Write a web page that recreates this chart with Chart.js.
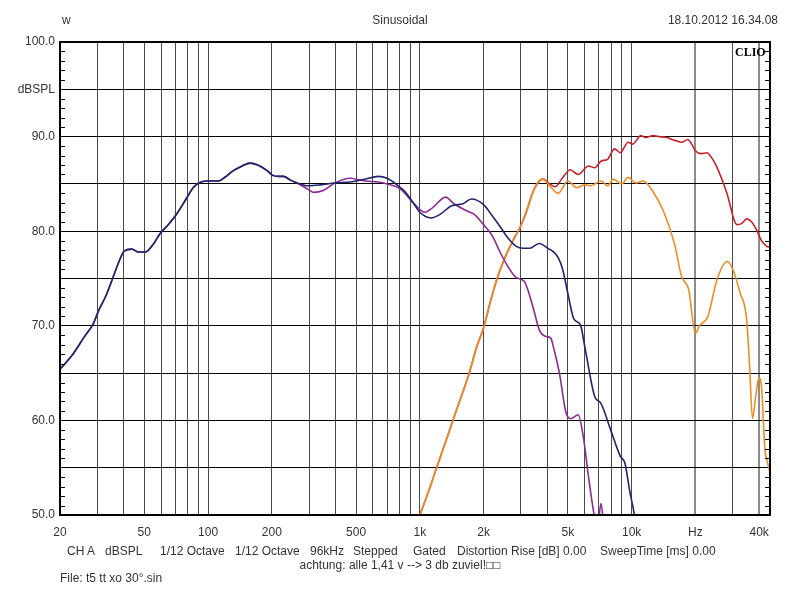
<!DOCTYPE html>
<html><head><meta charset="utf-8">
<script src="https://cdn.jsdelivr.net/npm/chart.js@4/dist/chart.umd.min.js"></script>
<style>
body{margin:0;background:#fff;}
#wrap{position:relative;width:800px;height:600px;font-family:"Liberation Sans",Arial,sans-serif;font-size:12px;color:#333;overflow:hidden;}
canvas{position:absolute;left:0;top:0;}
.t{position:absolute;white-space:pre;line-height:14px;}
</style></head><body>
<div id="wrap"><canvas id="c" width="800" height="600"></canvas>
<div class="t" style="left:62px;top:13px">w</div>
<div class="t" style="left:0;width:800px;text-align:center;top:13px">Sinusoidal</div>
<div class="t" style="right:22px;top:13px">18.10.2012 16.34.08</div>
<div class="t" style="left:735px;top:45px;font-family:'Liberation Serif','DejaVu Serif',serif;font-weight:bold;font-size:12px;color:#000">CLIO</div>
<div class="t" style="left:67px;top:544px">CH A</div>
<div class="t" style="left:105px;top:544px">dBSPL</div>
<div class="t" style="left:160px;top:544px">1/12 Octave</div>
<div class="t" style="left:235px;top:544px">1/12 Octave</div>
<div class="t" style="left:310px;top:544px">96kHz</div>
<div class="t" style="left:353px;top:544px">Stepped</div>
<div class="t" style="left:413px;top:544px">Gated</div>
<div class="t" style="left:457px;top:544px">Distortion Rise [dB] 0.00</div>
<div class="t" style="left:600px;top:544px">SweepTime [ms] 0.00</div>
<div class="t" style="left:0;width:800px;text-align:center;top:558px">achtung: alle 1,41 v --&gt; 3 db zuviel!□□</div>
<div class="t" style="left:60px;top:571px">File: t5 tt xo 30°.sin</div>
</div>
<script>
// ---- data ----
const blueFreq = [20,23,26,28.7,30.3,33,35.3,38,40.2,43.6,47,50.5,55,59.2,65,70,78.8,85,90.4,98.5,111.8,120,131.7,145,157.9,175.7,190,202,215,227,245,263,298,340,397,468,550,637,700,791,850,930,1000,1129,1250,1414,1600,1749,2000,2200,2390,2600,2851,3067,3300,3660,4080,4232,4500,4720,4990,5340,5730,6040,6700,7160,7960,8840,9290,9780,10270,10800];
const blueDb   = [65.4,67,68.8,70.2,71.5,73.2,74.9,76.8,77.9,78.1,77.8,77.8,78.6,79.7,80.7,81.6,83.4,84.6,85.1,85.3,85.3,85.7,86.4,86.9,87.2,86.9,86.4,85.9,85.8,85.8,85.4,85.1,84.8,84.9,85.1,85.2,85.5,85.8,85.6,84.8,84.2,83.0,82.0,81.4,81.8,82.7,82.9,83.4,82.8,81.6,80.5,79.3,78.4,78.2,78.2,78.7,78.1,77.9,77.2,76.0,73.5,70.7,70.1,67.5,62.5,61.8,59.0,56.2,55.5,52.6,50.2,47];

const purpleFreq = [20,23,26,28.7,30.3,33,35.3,38,40.2,43.6,47,50.5,55,59.2,65,70,78.8,85,90.4,98.5,111.8,120,131.7,145,157.9,175.7,190,202,215,227,245,263,298,315,350,397,468,550,637,700,805,930,1000,1055,1150,1321,1450,1683,1800,2000,2200,2390,2600,2851,3110,3410,3660,3900,4150,4300,4560,4900,5180,5590,5910,6250,6630,6900,7160,7420,7700];
const purpleDb   = [65.4,67,68.8,70.2,71.5,73.2,74.9,76.8,77.9,78.1,77.8,77.8,78.6,79.7,80.7,81.6,83.4,84.6,85.1,85.3,85.3,85.7,86.4,86.9,87.2,86.9,86.4,85.9,85.8,85.8,85.4,85.1,84.4,84.1,84.3,85.1,85.6,85.3,85.2,85.0,84.5,83.0,82.3,82.0,82.5,83.6,82.9,82.1,81.8,80.7,79.5,77.8,76.3,75.1,74.7,72.1,69.6,68.9,68.7,67.5,65.0,60.8,60.2,60.6,58.3,54.1,50.2,48.5,51.2,48.5,46];

const redFreq = [1000,1100,1200,1350,1500,1700,1858,2000,2150,2300,2500,2750,3000,3200,3400,3600,3837,4100,4357,4700,5130,5590,6250,6700,7160,7700,8300,8840,9620,10100,11060,11650,12640,13500,14600,16000,17230,18410,19200,20000,21300,22700,23800,25100,28100,31400,33000,34900,36800,38800,41000,43400,45000];
const redDb   = [50.0,52.5,55.0,58.3,61.3,64.8,67.8,69.8,72.5,74.8,77.0,79.0,80.6,82.2,84.0,85.1,85.5,85.0,84.7,85.6,86.5,86.0,86.9,86.7,87.4,87.6,88.7,88.3,89.4,89.2,90.1,89.9,90.1,90.0,89.9,89.6,89.4,89.7,89.2,88.5,88.2,88.3,87.8,86.9,84.1,80.7,80.8,81.3,81.0,80.2,79.0,78.4,78.3];

const orangeFreq = [1000,1100,1200,1350,1500,1700,1858,2000,2150,2300,2500,2750,3000,3200,3400,3600,3800,4100,4500,5000,5500,6000,6400,7200,7700,8200,9000,9600,10500,11300,12600,14200,16000,17200,18600,20000,20900,22900,25300,28300,30000,32500,34900,36000,37200,38500,39800,41000,42600,43500,45000];
const orangeDb   = [50.0,52.5,55.0,58.3,61.3,64.8,67.8,69.8,72.5,74.8,77.0,79.0,80.6,82.2,84.0,85.1,85.5,84.8,84.0,85.3,84.6,84.9,84.8,85.3,84.8,85.5,85.0,85.7,85.1,85.3,84.2,82.0,78.5,75.2,73.8,69.2,70.0,71.0,74.9,76.8,76.0,73.5,70.7,66.0,60.2,62.5,64.5,63.6,56.9,55.8,54.5];

const xTickValues = [20,30,40,50,60,70,80,90,100,200,300,400,500,600,700,800,900,1000,2000,3000,4000,5000,6000,7000,8000,9000,10000,20000,30000,40000];
const xLabelValues = [20,50,100,200,500,1000,2000,5000,10000,20000,40000];
const xLabelTexts  = ['20','50','100','200','500','1k','2k','5k','10k','Hz','40k'];
const yLabelValues = [100,95,90,80,70,60,50];
const yLabelTexts  = ['100.0','dBSPL','90.0','80.0','70.0','60.0','50.0'];

const FONT = {family:'"Liberation Sans", Arial, sans-serif', size:12};

function pts(f, d){ return f.map((v,i)=>({x:v, y:d[i]})); }
function ds(f, d, color){
  return {data:pts(f,d), borderColor:color, borderWidth:1.6, pointRadius:0, fill:false,
          tension:0.4, cubicInterpolationMode:'monotone'};
}

const frame = {
  id:'frame',
  afterDraw(chart){
    const {ctx, chartArea:a, scales:{y}} = chart;
    ctx.save();
    ctx.strokeStyle = '#000';
    ctx.lineWidth = 1;
    for (let v = 51; v < 100; v++) {
      if (v % 5 === 0) continue;
      const py = Math.round(y.getPixelForValue(v)) + 0.5;
      ctx.beginPath();
      ctx.moveTo(a.left, py); ctx.lineTo(a.left + 5, py);
      ctx.moveTo(a.right - 5, py); ctx.lineTo(a.right, py);
      ctx.stroke();
    }
    ctx.lineWidth = 2;
    ctx.strokeRect(a.left, a.top, a.right - a.left, a.bottom - a.top);
    ctx.restore();
  }
};

new Chart(document.getElementById('c'), {
  type:'line',
  data:{ datasets:[
    ds(blueFreq, blueDb, '#23236e'),
    ds(purpleFreq, purpleDb, '#8a2c94'),
    ds(orangeFreq, orangeDb, '#ee8d22'),
    ds(redFreq, redDb, '#c8222a')
  ]},
  options:{
    responsive:false, animation:false, parsing:true,
    layout:{padding:{top:42, right:30, left:0, bottom:0}},
    plugins:{legend:{display:false}, tooltip:{enabled:false}},
    scales:{
      x:{
        type:'logarithmic', min:20, max:45000,
        afterBuildTicks:s=>{ s.ticks = xTickValues.map(v=>({value:v})); },
        afterFit:s=>{ s.height = 85; },
        border:{display:false},
        grid:{drawTicks:false,
          color:c=> (c.tick && (c.tick.value===20000 || c.tick.value===40000)) ? '#8c8c8c' : '#4a4a4a',
          lineWidth:c=> (c.tick && (c.tick.value===20000 || c.tick.value===40000)) ? 2 : 1},
        ticks:{autoSkip:false, maxRotation:0, minRotation:0, padding:10, color:'#333', font:FONT,
          callback:(v)=>{ const i = xLabelValues.indexOf(v); return i>=0 ? xLabelTexts[i] : ''; }}
      },
      y:{
        type:'linear', min:50, max:100,
        afterBuildTicks:s=>{ const t=[]; for(let v=50; v<=100; v++) t.push({value:v}); s.ticks=t; },
        afterFit:s=>{ s.width = 60; },
        border:{display:false},
        grid:{drawTicks:false,
          color:c=> (c.tick && c.tick.value % 5 === 0) ? '#000' : 'rgba(0,0,0,0)', lineWidth:1},
        ticks:{autoSkip:false, padding:5, color:'#333', font:FONT,
          callback:(v)=>{ const i = yLabelValues.indexOf(v); return i>=0 ? yLabelTexts[i] : ''; }}
      }
    }
  },
  plugins:[frame]
});
</script>
</body></html>
